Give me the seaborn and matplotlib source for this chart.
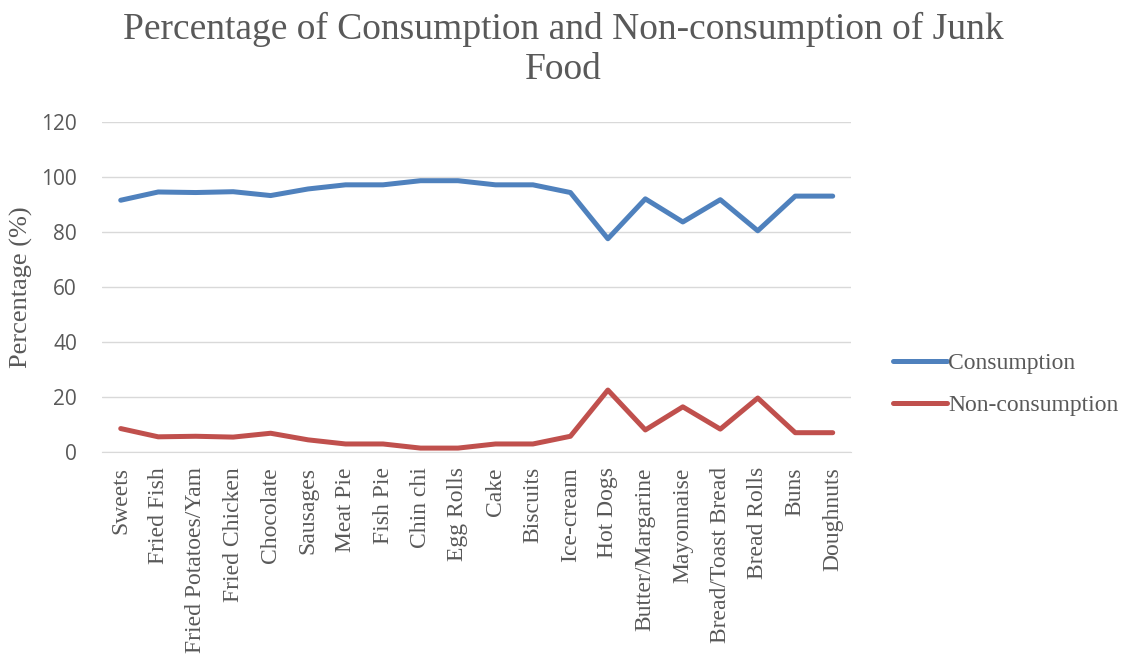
import pandas as pd
import matplotlib.pyplot as plt
import seaborn as sns

foods = ['Sweets', 'Fried Fish', 'Fried Potatoes/Yam', 'Fried Chicken', 'Chocolate',
         'Sausages', 'Meat Pie', 'Fish Pie', 'Chin chi', 'Egg Rolls', 'Cake', 'Biscuits',
         'Ice-cream', 'Hot Dogs', 'Butter/Margarine', 'Mayonnaise', 'Bread/Toast Bread',
         'Bread Rolls', 'Buns', 'Doughnuts']
consumption = [91.5, 94.5, 94.3, 94.6, 93.2, 95.6, 97.1, 97.1, 98.6, 98.6, 97.1, 97.1,
               94.3, 77.5, 92.0, 83.6, 91.7, 80.4, 93.0, 93.0]
non_consumption = [8.5, 5.5, 5.7, 5.4, 6.8, 4.4, 2.9, 2.9, 1.4, 1.4, 2.9, 2.9,
                   5.7, 22.5, 8.0, 16.4, 8.3, 19.6, 7.0, 7.0]

df = pd.DataFrame({
    'Food': foods * 2,
    'Percentage': consumption + non_consumption,
    'Series': ['Consumption'] * len(foods) + ['Non-consumption'] * len(foods),
})

sns.set_style('white')
plt.rcParams['font.family'] = ['Liberation Serif', 'DejaVu Serif']

fig = plt.figure(figsize=(11.27, 6.55), dpi=100)
ax = fig.add_axes([0.0905, 0.31, 0.665, 0.504])

sns.lineplot(data=df, x='Food', y='Percentage', hue='Series', sort=False,
             palette={'Consumption': '#4F81BD', 'Non-consumption': '#C0504D'},
             linewidth=3.6, ax=ax)

ax.set_xlim(-0.5, len(foods) - 0.5)
ax.set_ylim(0, 120)
ax.set_yticks(range(0, 121, 20))
ax.yaxis.grid(True, color='#D9D9D9', linewidth=1)
ax.xaxis.grid(False)
for s in ['top', 'right', 'left']:
    ax.spines[s].set_visible(False)
ax.spines['bottom'].set_color('#D9D9D9')
ax.tick_params(axis='both', length=0, colors='#595959')
ax.tick_params(axis='y', pad=18)
ax.tick_params(axis='x', pad=11)
for lab in ax.get_yticklabels():
    lab.set_fontfamily(['Open Sans', 'DejaVu Sans'])
    lab.set_fontsize(15)
ax.set_xticks(range(len(foods)))
ax.set_xticklabels(foods, rotation=90, fontsize=17, color='#595959')
ax.set_xlabel('')
ax.set_ylabel('Percentage (%)', fontsize=19, color='#595959', labelpad=6)

fig.text(0.5, 0.982, 'Percentage of Consumption and Non-consumption of Junk\nFood',
         ha='center', va='top', fontsize=27, color='#595959', linespacing=1.22)

leg = ax.legend(loc='center left', bbox_to_anchor=(1.027, 0.205), frameon=False,
                fontsize=17, handlelength=2.3, handletextpad=0.05, labelspacing=0.85)
for t in leg.get_texts():
    t.set_color('#595959')
for h in leg.get_lines():
    h.set_linewidth(3.6)

fig.savefig('out.png', dpi=100)
